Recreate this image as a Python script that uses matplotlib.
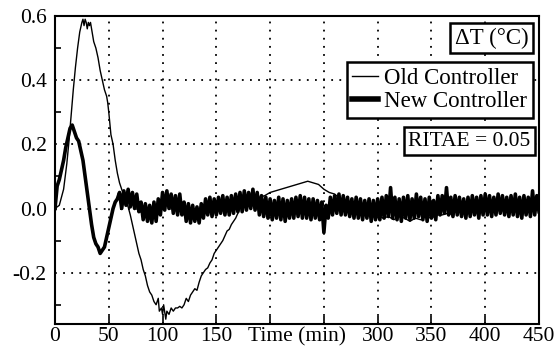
import matplotlib.pyplot as plt
from matplotlib.lines import Line2D

plt.rcParams["font.family"] = ["Liberation Serif", "DejaVu Serif"]

# Old controller (thin line), time in minutes, ΔT in °C
t_old = [0, 4, 8, 11, 13, 15, 17, 19, 21, 23, 25, 26, 27, 28, 29, 30, 31, 32, 33, 34,
         36, 38, 40, 42, 44, 46, 48, 49, 50, 52, 54, 56, 58, 60, 62, 64, 66, 68, 70, 72,
         74, 76, 78, 80, 82, 84, 86, 88, 90, 92, 94, 96, 97, 99, 100, 101, 103, 104, 106, 108,
         110, 112, 114, 116, 118, 120, 122, 124, 126, 128, 130, 132, 134, 136, 138, 140, 142, 144, 146, 148,
         150, 152, 154, 156, 158, 160, 162, 164, 166, 168, 170, 172, 176, 180, 185, 190, 195, 200, 205, 210,
         215, 220, 225, 230, 235, 240, 245, 250, 255, 260, 265, 270, 275, 280, 290, 300, 305, 310, 315, 320,
         325, 330, 335, 340, 345, 350, 355, 360, 370, 380, 400, 420, 450]
old = [0.0, 0.01, 0.06, 0.14, 0.21, 0.29, 0.37, 0.44, 0.50, 0.55, 0.58, 0.59, 0.57, 0.59, 0.58, 0.56, 0.58, 0.57, 0.58, 0.56,
       0.52, 0.50, 0.47, 0.43, 0.40, 0.37, 0.35, 0.33, 0.30, 0.23, 0.20, 0.15, 0.11, 0.08, 0.06, 0.04, 0.02, 0.005, -0.02, -0.05,
       -0.08, -0.11, -0.14, -0.16, -0.19, -0.21, -0.24, -0.26, -0.27, -0.29, -0.30, -0.28, -0.32, -0.31, -0.33, -0.30, -0.345, -0.32, -0.33, -0.31,
       -0.32, -0.31, -0.31, -0.305, -0.31, -0.30, -0.28, -0.29, -0.27, -0.26, -0.25, -0.255, -0.23, -0.21, -0.20, -0.19, -0.185, -0.17, -0.16, -0.14,
       -0.13, -0.12, -0.11, -0.10, -0.085, -0.07, -0.065, -0.05, -0.04, -0.03, -0.015, 0.0, 0.01, 0.02, 0.03, 0.035, 0.04, 0.05, 0.055, 0.06,
       0.065, 0.07, 0.075, 0.08, 0.085, 0.08, 0.075, 0.06, 0.05, 0.045, 0.03, 0.02, 0.01, 0.0, -0.01, -0.02, -0.03, -0.025, -0.035, -0.025,
       -0.03, -0.04, -0.03, -0.035, -0.025, -0.03, -0.02, -0.02, -0.01, -0.005, 0.0, 0.0, 0.0]

# New controller (thick line), sampled every 2 min
t_new = list(range(0, 452, 2))
new = [0.00, 0.07, 0.09, 0.12, 0.15, 0.19, 0.22, 0.25, 0.26, 0.24,
       0.22, 0.21, 0.18, 0.15, 0.10, 0.05, 0.00, -0.05, -0.09, -0.11,
       -0.12, -0.14, -0.13, -0.12, -0.09, -0.06, -0.03, 0.00, 0.02, 0.03,
       0.05, 0.0, 0.055, 0.01, 0.06, 0.005, 0.05, 0.0, 0.045, -0.01,
       0.02, -0.035, 0.015, -0.04, 0.01, -0.045, 0.02, -0.04, 0.03, -0.02,
       0.05, -0.005, 0.055, 0.0, 0.045, -0.015, 0.04, -0.02, 0.045, -0.02,
       0.02, -0.04, 0.015, -0.045, 0.01, -0.04, 0.005, -0.045, 0.015, -0.03,
       0.03, -0.02, 0.035, -0.025, 0.03, -0.02, 0.035, -0.015, 0.04, -0.02,
       0.035, -0.02, 0.04, -0.015, 0.045, -0.01, 0.05, -0.01, 0.055, -0.005,
       0.05, 0.0, 0.06, -0.005, 0.05, -0.02, 0.04, -0.025, 0.035, -0.03,
       0.03, -0.035, 0.025, -0.03, 0.035, -0.035, 0.03, -0.04, 0.025, -0.03,
       0.03, -0.03, 0.035, -0.025, 0.04, -0.03, 0.035, -0.03, 0.03, -0.035,
       0.03, -0.03, 0.025, -0.035, 0.02, -0.075, 0.01, -0.03, 0.035, -0.02,
       0.04, -0.015, 0.045, -0.02, 0.04, -0.02, 0.035, -0.025, 0.03, -0.03,
       0.035, -0.03, 0.03, -0.035, 0.025, -0.03, 0.03, -0.04, 0.025, -0.035,
       0.03, -0.035, 0.035, -0.03, 0.04, -0.025, 0.065, -0.03, 0.035, -0.035,
       0.03, -0.04, 0.035, -0.03, 0.04, -0.035, 0.03, -0.03, 0.045, -0.025,
       0.035, -0.035, 0.03, -0.04, 0.035, -0.03, 0.025, -0.035, 0.04, -0.02,
       0.04, -0.015, 0.065, -0.02, 0.035, -0.025, 0.04, -0.02, 0.035, -0.025,
       0.03, -0.03, 0.035, -0.025, 0.04, -0.02, 0.035, -0.03, 0.04, -0.02,
       0.045, -0.02, 0.04, -0.025, 0.035, -0.02, 0.045, -0.015, 0.04, -0.02,
       0.035, -0.025, 0.04, -0.02, 0.045, -0.025, 0.035, -0.03, 0.04, -0.02,
       0.035, -0.025, 0.055, -0.02, 0.04, -0.01]

x_ticks = [0, 50, 100, 150, 200, 250, 300, 350, 400, 450]
x_labels = ["0", "50", "100", "150", "", "", "300", "350", "400", "450"]
y_ticks = [-0.2, 0.0, 0.2, 0.4, 0.6]
y_labels = ["-0.2", "0.0", "0.2", "0.4", "0.6"]

fig = plt.figure(figsize=(5.54, 3.49), dpi=100)
ax = fig.add_axes([55 / 554, 1 - 324 / 349, 484 / 554, 308 / 349])

ax.plot(t_old, old, color="black", linewidth=1.0)
ax.plot(t_new, new, color="black", linewidth=2.6)

ax.set_xlim(0, 450)
ax.set_ylim(-0.36, 0.6)
ax.set_xticks(x_ticks)
ax.set_xticklabels(x_labels)
ax.set_yticks(y_ticks)
ax.set_yticklabels(y_labels)
ax.set_yticks([-0.3, -0.1, 0.1, 0.3, 0.5], minor=True)
ax.tick_params(axis="both", labelsize=15.5, colors="black")
ax.tick_params(axis="x", direction="in", length=6, width=1.2, pad=2)
ax.tick_params(axis="y", which="major", length=0, pad=6)
ax.tick_params(axis="y", which="minor", direction="in", length=4, width=1.2)
ax.grid(True, which="major", color="black", linestyle=(0, (1, 3.5)), linewidth=1.3)
for s in ax.spines.values():
    s.set_linewidth(1.5)

ax.text(225, -0.37, "Time (min)", ha="center", va="top", fontsize=15.5,
        transform=ax.transData)

handles = [Line2D([], [], color="black", linewidth=1.0),
           Line2D([], [], color="black", linewidth=4.0)]
leg = ax.legend(handles, ["Old Controller", "New Controller"], loc="upper right",
                bbox_to_anchor=(0.988, 0.851), borderaxespad=0, fontsize=16.5,
                handlelength=1.1, handletextpad=0.3, borderpad=0.25,
                labelspacing=0.1, fancybox=False, framealpha=1, edgecolor="black")
leg.get_frame().set_linewidth(1.8)

box = dict(boxstyle="square,pad=0.2", facecolor="white", edgecolor="black", linewidth=1.8)
ax.text(0.978, 0.962, "ΔT (°C)", ha="right", va="top", fontsize=16.5,
        transform=ax.transAxes, bbox=box)
ax.text(0.982, 0.625, "RITAE = 0.05", ha="right", va="top", fontsize=15.5,
        transform=ax.transAxes, bbox=box)

fig.savefig("out.png", dpi=100)
